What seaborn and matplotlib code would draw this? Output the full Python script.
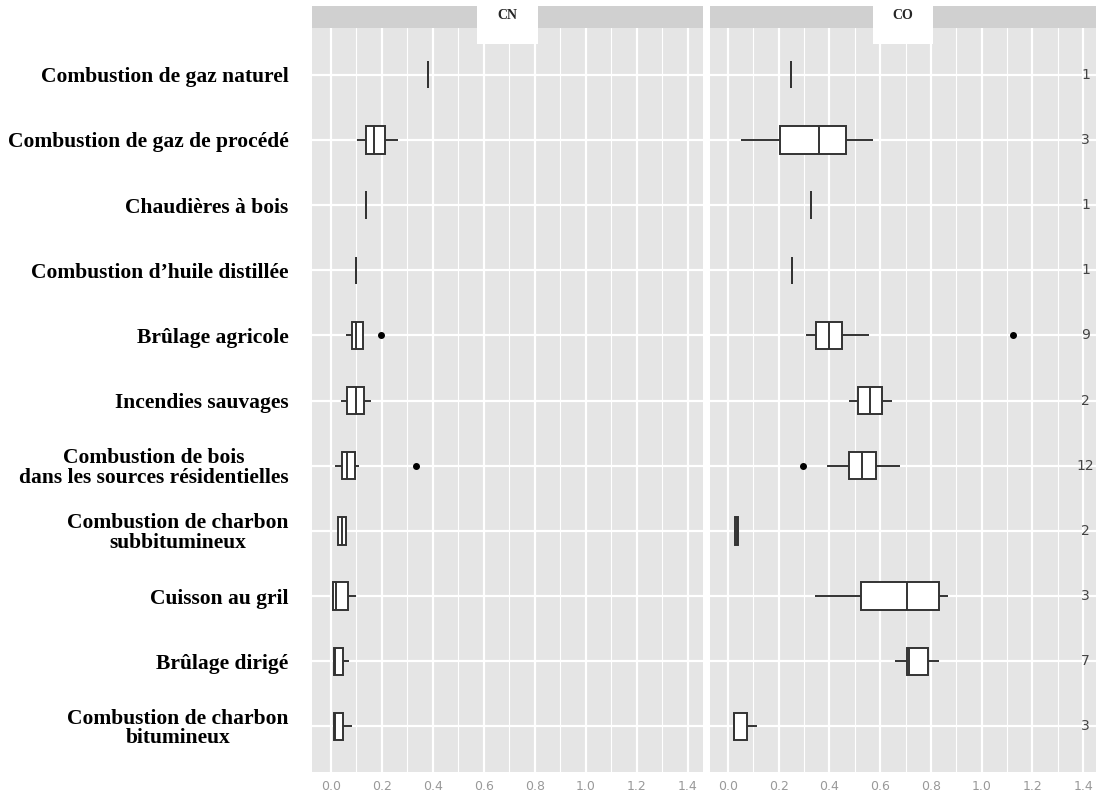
import pandas as pd
import seaborn as sns
import matplotlib.pyplot as plt
from matplotlib.patches import Rectangle
from matplotlib.ticker import MultipleLocator

categories = ["Combustion de gaz naturel",
              "Combustion de gaz de procédé",
              "Chaudières à bois",
              "Combustion d\u2019huile distillée",
              "Brûlage agricole",
              "Incendies sauvages",
              "Combustion de bois\ndans les sources résidentielles",
              "Combustion de charbon\nsubbitumineux",
              "Cuisson au gril",
              "Brûlage dirigé",
              "Combustion de charbon\nbitumineux"]

counts = [1, 3, 1, 1, 9, 2, 12, 2, 3, 7, 3]

cn_values = [[0.38],
             [0.105, 0.14, 0.17, 0.215, 0.265],
             [0.14],
             [0.10],
             [0.06, 0.07, 0.085, 0.09, 0.10, 0.11, 0.125, 0.125, 0.196],
             [0.04, 0.065, 0.10, 0.13, 0.16],
             [0.016, 0.03, 0.043, 0.05, 0.063, 0.08, 0.094, 0.11, 0.335],
             [0.028, 0.03, 0.045, 0.06, 0.062],
             [0.006, 0.008, 0.02, 0.067, 0.10],
             [0.01, 0.012, 0.016, 0.047, 0.07],
             [0.01, 0.012, 0.018, 0.05, 0.083]]

co_values = [[0.25],
             [0.05, 0.205, 0.36, 0.465, 0.57],
             [0.327],
             [0.252],
             [0.308, 0.33, 0.346, 0.37, 0.40, 0.43, 0.45, 0.555, 1.125],
             [0.477, 0.512, 0.56, 0.607, 0.647],
             [0.295, 0.39, 0.477, 0.50, 0.53, 0.55, 0.583, 0.62, 0.68],
             [0.025, 0.027, 0.034, 0.041, 0.043],
             [0.343, 0.525, 0.705, 0.83, 0.867],
             [0.66, 0.705, 0.715, 0.79, 0.83],
             [0.02, 0.022, 0.025, 0.075, 0.114]]

rows = []
for cat, vals in zip(categories, cn_values):
    for v in vals:
        rows.append({'facet': 'CN', 'cat': cat, 'value': v})
for cat, vals in zip(categories, co_values):
    for v in vals:
        rows.append({'facet': 'CO', 'cat': cat, 'value': v})
df = pd.DataFrame(rows)

sns.set_style('darkgrid', {'axes.facecolor': '#E5E5E5', 'grid.color': 'white'})

fig = plt.figure(figsize=(10.96, 8.01), dpi=100)
ax1 = fig.add_axes([0.2847, 0.0362, 0.3568, 0.929])
ax2 = fig.add_axes([0.6478, 0.0362, 0.3522, 0.929])

for ax, facet, xlim in [(ax1, 'CN', (-0.073, 1.46)), (ax2, 'CO', (-0.071, 1.451))]:
    sub = df[df['facet'] == facet]
    sns.boxplot(data=sub, x='value', y='cat', order=categories, orient='h',
                color='white', linecolor='#333333', linewidth=1.4, width=0.42,
                capprops=dict(linewidth=0),
                flierprops=dict(marker='o', markerfacecolor='black',
                                markeredgecolor='black', markersize=4),
                ax=ax)
    ax.set_xlim(*xlim)
    ax.set_ylim(10.7, -0.72)
    ax.xaxis.set_major_locator(MultipleLocator(0.2))
    ax.xaxis.set_minor_locator(MultipleLocator(0.1))
    ax.grid(which='major', color='white', linewidth=1.6)
    ax.grid(which='minor', axis='x', color='white', linewidth=0.8)
    ax.set_axisbelow(True)
    ax.set_xlabel('')
    ax.set_ylabel('')
    for s in ax.spines.values():
        s.set_visible(False)
    ax.tick_params(axis='x', which='major', length=3, color='#aaaaaa',
                   labelsize=9, labelcolor='#999999', pad=3)
    ax.tick_params(axis='x', which='minor', length=0)
    ax.set_xticklabels([f'{t:.1f}' for t in ax.get_xticks()])
    # strip with the white label box on top of it
    ax.add_patch(Rectangle((0, 1.0), 1, 0.029, transform=ax.transAxes,
                           facecolor='#D0D0D0', edgecolor='none', clip_on=False))
    ax.add_patch(Rectangle((0.422, 0.979), 0.155, 0.05, transform=ax.transAxes,
                           facecolor='white', edgecolor='none', clip_on=False))
    ax.text(0.5, 1.016, facet, transform=ax.transAxes, ha='center', va='center',
            fontsize=10, fontweight='bold', family='Liberation Serif')

ax1.tick_params(axis='y', length=3, color='#aaaaaa', pad=14)
ax1.set_yticks(range(len(categories)))
ax1.set_yticklabels(categories, fontsize=15.5, fontweight='bold', color='black',
                    family='Liberation Serif', multialignment='center',
                    linespacing=0.95)

ax2.tick_params(axis='y', length=0)
ax2.set_yticklabels([])
for i, n in enumerate(counts):
    ax2.text(1.41, i, str(n), ha='center', va='center', fontsize=10, color='#444444')

fig.savefig('out.png', dpi=100)
